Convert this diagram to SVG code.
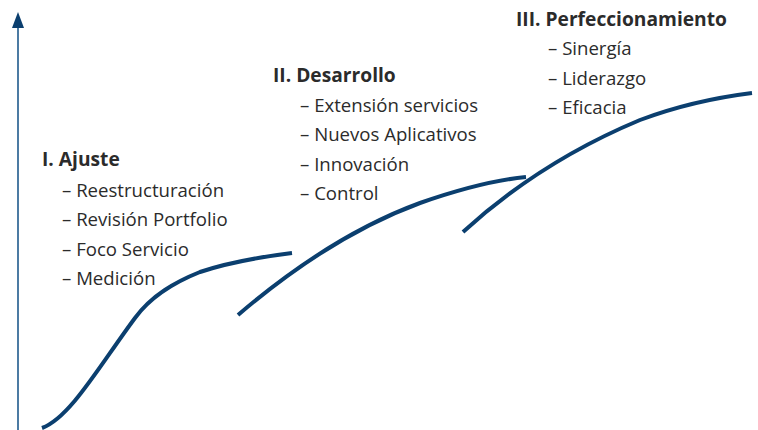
<svg xmlns="http://www.w3.org/2000/svg" width="758" height="430" viewBox="0 0 758 430">
<style>
.t{font-family:"Open Sans","Noto Sans",sans-serif;font-size:18.6px;fill:#2b2b2b}
.h{font-weight:bold;font-size:19.2px}
.c{fill:none;stroke:#0b3f6f;stroke-width:4;stroke-linecap:butt}
</style>
<rect width="758" height="430" fill="#fff"/>
<g id="axis">
<line x1="18" y1="28" x2="18" y2="430" stroke="#1f5a8c" stroke-width="1.6"/>
<polygon points="18,12 24,28 12,28" fill="#0b3f6f"/>
</g>
<g id="connectors">
<path class="c" d="M42,428 C70,418 100,365 135,318 C152,295 175,282 200,272 C230,262 260,257 292,253"/>
<path class="c" d="M238,315 C300,262 360,225 420,203 C460,189 495,180 526,177"/>
<path class="c" d="M463,232 C520,180 580,145 640,120 C680,105 720,97 752,93"/>
</g>
<g id="ajuste">
<text class="t h" x="42" y="166">I. Ajuste</text>
<text class="t" x="62" y="197">– Reestructuración</text>
<text class="t" x="62" y="226">– Revisión Portfolio</text>
<text class="t" x="62" y="256">– Foco Servicio</text>
<text class="t" x="62" y="285">– Medición</text>
</g>
<g id="desarrollo">
<text class="t h" x="273" y="82">II. Desarrollo</text>
<text class="t" x="300" y="112">– Extensión servicios</text>
<text class="t" x="300" y="141">– Nuevos Aplicativos</text>
<text class="t" x="300" y="171">– Innovación</text>
<text class="t" x="300" y="200">– Control</text>
</g>
<g id="perfeccionamiento">
<text class="t h" x="516" y="26">III. Perfeccionamiento</text>
<text class="t" x="548" y="55">– Sinergía</text>
<text class="t" x="548" y="85">– Liderazgo</text>
<text class="t" x="548" y="114">– Eficacia</text>
</g>
</svg>
